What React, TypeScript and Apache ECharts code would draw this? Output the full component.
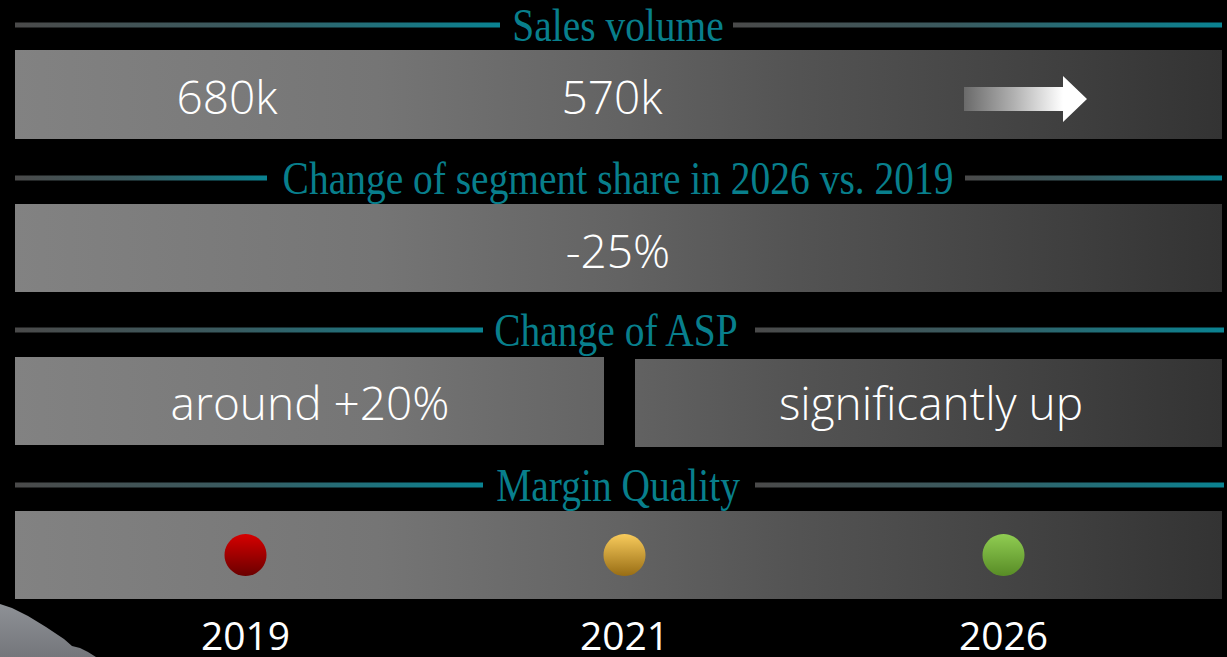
import React, { useEffect, useRef } from "react";
import * as echarts from "echarts";

// ---- data ----
const sectionTitles = [
  "Sales volume",
  "Change of segment share in 2026 vs. 2019",
  "Change of ASP",
  "Margin Quality",
];
const salesVolumeLabels = ["680k", "570k"];
const segmentShareLabels = ["-25%"];
const aspLabels = ["around +20%", "significantly up"];
const years = ["2019", "2021", "2026"];
const marginQuality = ["low", "medium", "high"];
const marginColors: Record<string, [string, string]> = {
  low: ["#d60000", "#6a0000"],
  medium: ["#f8cb5c", "#986d14"],
  high: ["#90cd52", "#588c26"],
};

// ---- layout ----
const BAR_L = 15;
const BAR_R = 1222;
const TEAL = "#0a8392";
const TEXT_TEAL = "#087f8c";
const headerLayout = [
  { y: 25, cx: 618, l: [15, 500], r: [733, 1222] },
  { y: 178, cx: 618, l: [15, 267], r: [965, 1222] },
  { y: 330, cx: 616, l: [15, 483], r: [755, 1224] },
  { y: 485, cx: 618, l: [15, 483], r: [755, 1224] },
];
const barLayout = [
  [{ x: BAR_L, y: 50, w: BAR_R - BAR_L, h: 89 }],
  [{ x: BAR_L, y: 204, w: BAR_R - BAR_L, h: 88 }],
  [
    { x: BAR_L, y: 357, w: 604 - BAR_L, h: 88 },
    { x: 635, y: 359, w: BAR_R - 635, h: 88 },
  ],
  [{ x: BAR_L, y: 511, w: BAR_R - BAR_L, h: 88 }],
];
const salesPos = [
  { x: 227, y: 96 },
  { x: 612, y: 96 },
];
const sharePos = [{ x: 618, y: 250 }];
const aspPos = [
  { x: 310, y: 402 },
  { x: 931, y: 402 },
];

const barGradient = () => ({
  type: "linear",
  x: BAR_L,
  y: 0,
  x2: BAR_R,
  y2: 0,
  global: true,
  colorStops: [
    { offset: 0, color: "#828282" },
    { offset: 0.3, color: "#757575" },
    { offset: 0.5, color: "#636363" },
    { offset: 0.65, color: "#535353" },
    { offset: 0.82, color: "#444444" },
    { offset: 1, color: "#333333" },
  ],
});

const lineGradient = (x1: number, x2: number) => ({
  type: "linear",
  x: x1,
  y: 0,
  x2: x2,
  y2: 0,
  global: true,
  colorStops: [
    { offset: 0, color: "#4a4a4a" },
    { offset: 0.45, color: "#3a5a5f" },
    { offset: 1, color: TEAL },
  ],
});

const whiteText = (text: string, x: number, y: number) => ({
  type: "text",
  x,
  y,
  z: 5,
  style: {
    text,
    align: "center",
    verticalAlign: "middle",
    fill: "#ffffff",
    fontFamily: "Open Sans",
    fontWeight: 300,
    fontSize: 46,
  },
});

export default function App() {
  const ref = useRef<HTMLDivElement>(null);

  useEffect(() => {
    if (!ref.current) return;
    const chart = echarts.init(ref.current, undefined, { renderer: "svg" });

    const graphic: any[] = [];

    // bottom-left decorative shape
    graphic.push({
      type: "polygon",
      z: 1,
      shape: {
        points: [
          [0, 604],
          [12, 608],
          [28, 616],
          [46, 627],
          [64, 639],
          [72, 646],
          [80, 648],
          [88, 652],
          [96, 657],
          [0, 657],
        ],
      },
      style: {
        fill: {
          type: "linear",
          x: 0,
          y: 0,
          x2: 0,
          y2: 1,
          colorStops: [
            { offset: 0, color: "#8e9196" },
            { offset: 1, color: "#74767b" },
          ],
        },
      },
    });

    // headers
    sectionTitles.forEach((t, i) => {
      const h = headerLayout[i];
      graphic.push({
        type: "rect",
        z: 1,
        shape: { x: h.l[0], y: h.y - 2.5, width: h.l[1] - h.l[0], height: 5 },
        style: { fill: lineGradient(h.l[0], h.l[1]) },
      });
      graphic.push({
        type: "rect",
        z: 1,
        shape: { x: h.r[0], y: h.y - 2.5, width: h.r[1] - h.r[0], height: 5 },
        style: { fill: lineGradient(h.r[0], h.r[1]) },
      });
      graphic.push({
        type: "text",
        x: h.cx,
        y: h.y,
        scaleX: 0.84,
        z: 5,
        style: {
          text: t,
          align: "center",
          verticalAlign: "middle",
          fill: TEXT_TEAL,
          fontFamily: "Liberation Serif",
          fontSize: 47,
        },
      });
    });

    // bars
    barLayout.forEach((row) =>
      row.forEach((b) =>
        graphic.push({
          type: "rect",
          z: 1,
          shape: { x: b.x, y: b.y, width: b.w, height: b.h },
          style: { fill: barGradient() },
        })
      )
    );

    // labels
    salesVolumeLabels.forEach((t, i) => graphic.push(whiteText(t, salesPos[i].x, salesPos[i].y)));
    segmentShareLabels.forEach((t, i) => graphic.push(whiteText(t, sharePos[i].x, sharePos[i].y)));
    aspLabels.forEach((t, i) => graphic.push(whiteText(t, aspPos[i].x, aspPos[i].y)));

    // arrow
    graphic.push({
      type: "polygon",
      z: 5,
      shape: {
        points: [
          [964, 87],
          [1063, 87],
          [1063, 76],
          [1087, 99],
          [1063, 122],
          [1063, 111],
          [964, 111],
        ],
      },
      style: {
        fill: {
          type: "linear",
          x: 964,
          y: 0,
          x2: 1063,
          y2: 0,
          global: true,
          colorStops: [
            { offset: 0, color: "#6a6a6a" },
            { offset: 0.5, color: "#b0b0b0" },
            { offset: 1, color: "#ffffff" },
          ],
        },
      },
    });

    const option: any = {
      backgroundColor: "#000000",
      animation: false,
      grid: { left: 56, right: 34, top: 511, bottom: 58, containLabel: false },
      xAxis: {
        type: "category",
        data: years,
        axisLine: { show: false },
        axisTick: { show: false },
        splitLine: { show: false },
        axisLabel: {
          color: "#ffffff",
          fontFamily: "Open Sans",
          fontSize: 39,
          margin: 35,
          verticalAlign: "middle",
        },
      },
      yAxis: { type: "category", data: ["Margin Quality"], show: false },
      series: [
        {
          type: "scatter",
          name: "Margin Quality",
          symbolSize: 42,
          z: 10,
          data: years.map((y, i) => {
            const c = marginColors[marginQuality[i]];
            return {
              value: [y, "Margin Quality"],
              name: marginQuality[i],
              itemStyle: {
                opacity: 1,
                color: new echarts.graphic.LinearGradient(0, 0, 0, 1, [
                  { offset: 0, color: c[0] },
                  { offset: 1, color: c[1] },
                ]),
              },
            };
          }),
        },
      ],
      graphic,
    };

    chart.setOption(option);
    return () => chart.dispose();
  }, []);

  return (
    <div
      ref={ref}
      style={{ position: "fixed", left: 0, top: 0, width: 1227, height: 657 }}
    />
  );
}
